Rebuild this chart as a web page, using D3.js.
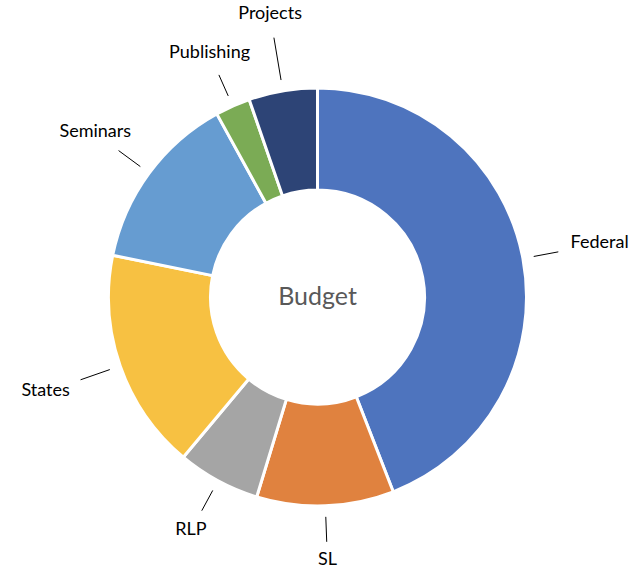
<!DOCTYPE html>
<html>
<head>
<meta charset="utf-8">
<script src="https://cdn.jsdelivr.net/npm/d3@7"></script>
<style>
  html, body { margin: 0; padding: 0; background: #fff; }
  svg { display: block; }
  .label { font-family: Lato, "Open Sans", sans-serif; font-size: 18px; fill: #000; }
  .title { font-family: Lato, "Open Sans", sans-serif; font-size: 25px; fill: #595959; }
</style>
</head>
<body>
<svg id="chart" width="635" height="574"></svg>
<script>
// budget shares, clockwise from 12 o'clock
var categories = ["Federal", "SL", "RLP", "States", "Seminars", "Publishing", "Projects"];
var values = [44.1, 10.6, 6.4, 17.1, 13.8, 2.7, 5.3];
var colors = ["#4E74BE", "#E0823F", "#A5A5A5", "#F7C142", "#669CD1", "#7BAB55", "#2D4476"];
var centerTitle = "Budget";

// leader line end radius and label centre radius per slice
var leaderOuter = [245, 245, 243, 251, 247, 243, 263];
var labelRadius = [287, 264, 266, 288, 276, 266, 286];

var draw = {

    cx: 317.5,
    cy: 297,
    outerR: 209,
    innerR: 107,

    index: function () {
        var svg = d3.select("#chart");
        var g = svg.append("g")
            .attr("transform", "translate(" + draw.cx + "," + draw.cy + ")");

        var data = categories.map(function (c, i) {
            return { name: c, value: values[i], color: colors[i], i: i };
        });

        var pie = d3.pie()
            .sort(null)
            .value(function (d) { return d.value; });

        var arc = d3.arc()
            .innerRadius(draw.innerR)
            .outerRadius(draw.outerR);

        var arcs = pie(data);

        g.selectAll("path.slice")
            .data(arcs)
            .enter().append("path")
            .attr("class", "slice")
            .attr("d", arc)
            .attr("fill", function (d) { return d.data.color; })
            .attr("stroke", "#fff")
            .attr("stroke-width", 3)
            .attr("stroke-linejoin", "round");

        function polar(a, r) {
            return [Math.sin(a) * r, -Math.cos(a) * r];
        }

        // leader lines
        g.selectAll("line.leader")
            .data(arcs)
            .enter().append("line")
            .attr("class", "leader")
            .each(function (d) {
                var a = (d.startAngle + d.endAngle) / 2;
                var p1 = polar(a, draw.outerR + 11);
                var p2 = polar(a, leaderOuter[d.data.i]);
                d3.select(this)
                    .attr("x1", p1[0]).attr("y1", p1[1])
                    .attr("x2", p2[0]).attr("y2", p2[1]);
            })
            .attr("stroke", "#000")
            .attr("stroke-width", 1);

        // labels
        g.selectAll("text.label")
            .data(arcs)
            .enter().append("text")
            .attr("class", "label")
            .attr("text-anchor", "middle")
            .attr("dominant-baseline", "central")
            .attr("transform", function (d) {
                var a = (d.startAngle + d.endAngle) / 2;
                var p = polar(a, labelRadius[d.data.i]);
                return "translate(" + p[0] + "," + (p[1] - 3) + ")";
            })
            .text(function (d) { return d.data.name; });

        g.append("text")
            .attr("class", "title")
            .attr("text-anchor", "middle")
            .attr("dominant-baseline", "central")
            .attr("y", -2)
            .text(centerTitle);
    }
};

draw.index();
</script>
</body>
</html>
